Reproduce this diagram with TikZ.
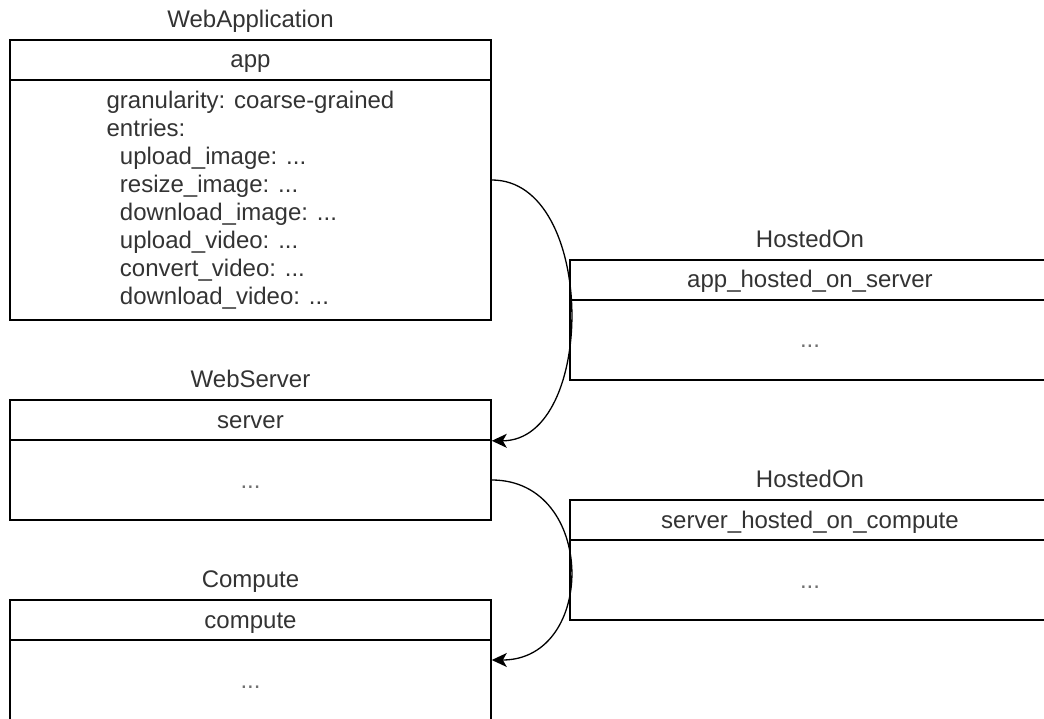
\documentclass[tikz,border=0pt]{standalone}
\usepackage{fontspec}
\setmainfont{Liberation Sans}
\usetikzlibrary{arrows.meta}
\definecolor{ink}{HTML}{333333}
\definecolor{dotgray}{HTML}{707070}

\begin{document}
\begin{tikzpicture}[x=1pt,y=-1pt,
  every node/.style={font=\fontsize{24}{28}\selectfont, text=ink},
  box/.style={draw=black, line width=1.6pt, minimum width=481pt, inner sep=0pt},
  hdr/.style={box, minimum height=40pt, text height=18pt, text depth=2pt},
  dotsbody/.style={box, minimum height=80pt, text height=18pt, text depth=2pt, text=dotgray},
  title/.style={anchor=base, inner sep=0pt},
  link/.style={draw=black, line width=1.3pt, -{Stealth[length=15pt,width=14pt,inset=4pt]}}
]
\useasboundingbox (0,0) rectangle (1044,719);
\clip (0,0) rectangle (1044,719);

% WebApplication
\node[hdr] (apphead) at (250.5,60) {app};
\node[box, minimum height=240pt, align=left] (appbody) at (250.5,200)
  {granularity: coarse-grained\\
   entries:\\
   \hspace*{13.3pt}upload\_image: ...\\
   \hspace*{13.3pt}resize\_image: ...\\
   \hspace*{13.3pt}download\_image: ...\\
   \hspace*{13.3pt}upload\_video: ...\\
   \hspace*{13.3pt}convert\_video: ...\\
   \hspace*{13.3pt}download\_video: ...};
\node[title] (apptitle) at ([yshift=12pt]apphead.north) {WebApplication};

% WebServer
\node[hdr] (srvhead) at (250.5,420) {server};
\node[dotsbody] (srvbody) at (250.5,480) {...};
\node[title] (srvtitle) at ([yshift=12pt]srvhead.north) {WebServer};

% Compute
\node[hdr] (cmphead) at (250.5,620) {compute};
\node[dotsbody] (cmpbody) at (250.5,680) {...};
\node[title] (cmptitle) at ([yshift=12pt]cmphead.north) {Compute};

% HostedOn relationships
\node[hdr, minimum width=480pt] (rel1head) at (810,280) {app\_hosted\_on\_server};
\node[dotsbody, minimum width=480pt] (rel1body) at (810,340) {...};
\node[title] (rel1title) at ([yshift=12pt]rel1head.north) {HostedOn};

\node[hdr, minimum width=480pt] (rel2head) at (810,520) {server\_hosted\_on\_compute};
\node[dotsbody, minimum width=480pt] (rel2body) at (810,580) {...};
\node[title] (rel2title) at ([yshift=12pt]rel2head.north) {HostedOn};

% connectors
\draw[link] ([yshift=20pt]appbody.east) .. controls +(105,0) and +(105,0) .. (srvhead.south east);
\draw[link] (srvbody.east) .. controls +(105,0) and +(105,0) .. ([yshift=20pt]cmpbody.east);
\end{tikzpicture}
\end{document}
